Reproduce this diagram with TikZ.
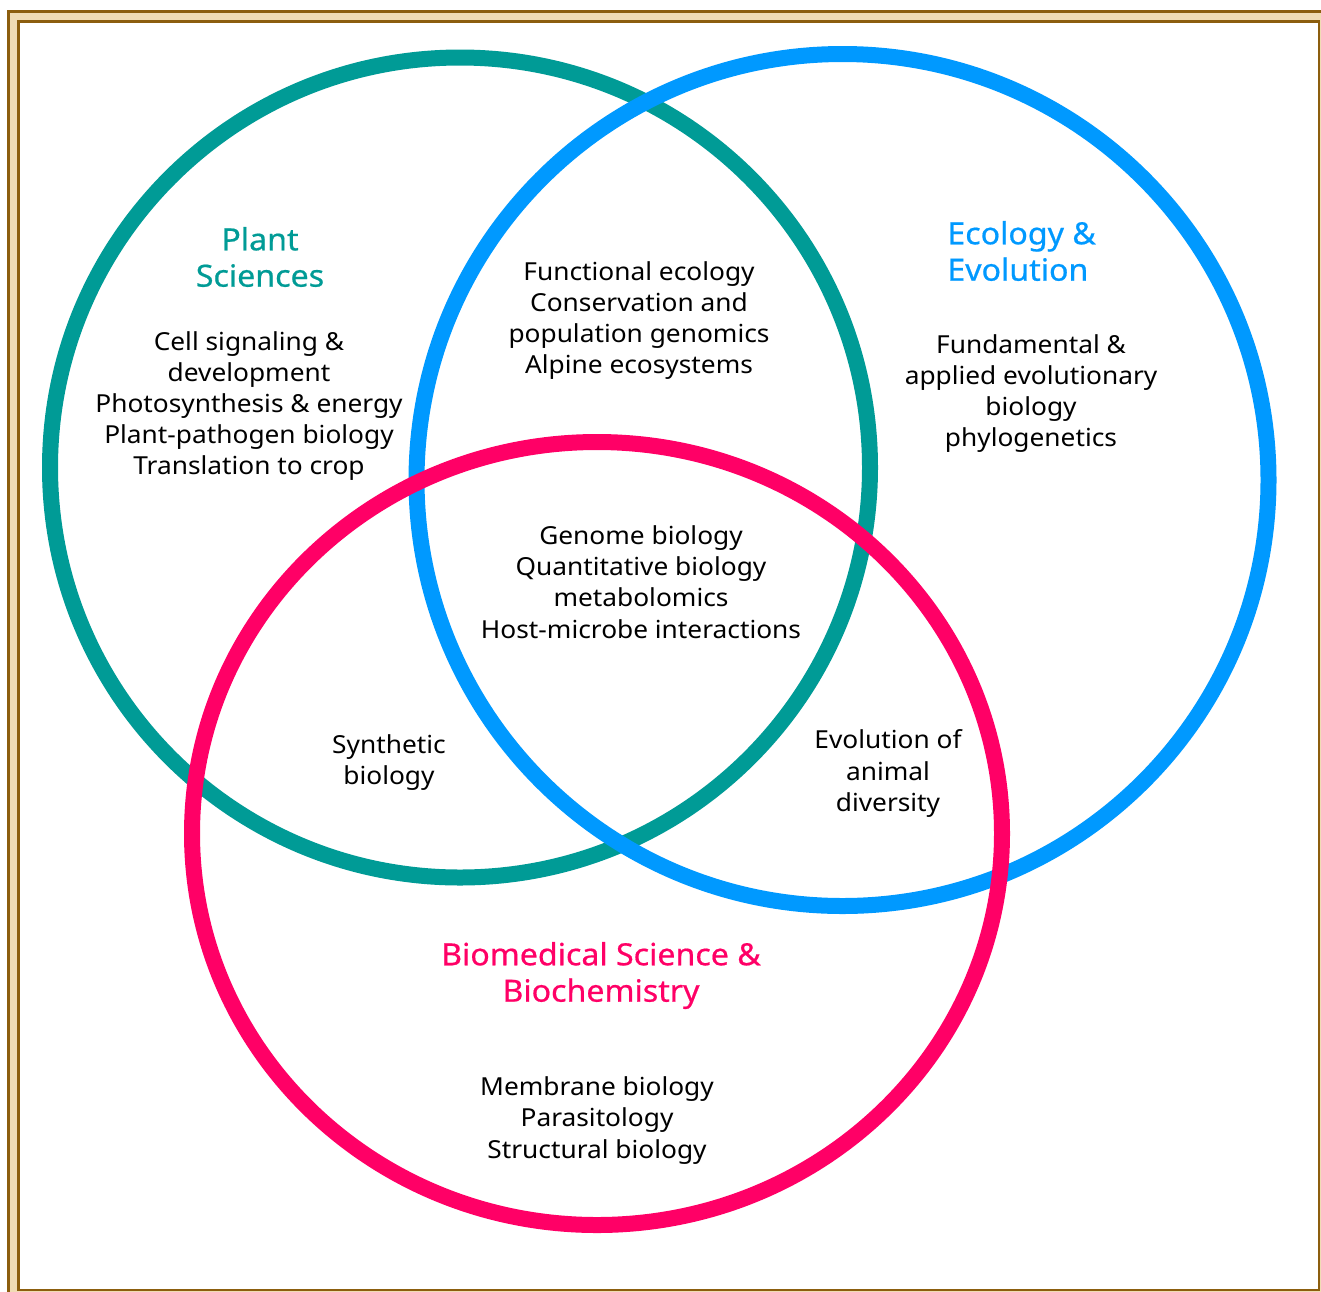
\documentclass[tikz,border=0pt]{standalone}
\usepackage{fontspec}
\setmainfont{Noto Sans}
\newfontfamily\wideff[FakeStretch=1.06]{Noto Sans}
\newfontfamily\widetf[FakeStretch=1.05,FakeBold=0.6]{Noto Sans}
\definecolor{teal1}{HTML}{009B96}
\definecolor{blue1}{HTML}{0099FF}
\definecolor{pink1}{HTML}{FF0066}
\definecolor{frameD}{HTML}{8C5E0E}
\definecolor{frameL}{HTML}{F0DCB4}
\begin{document}
\begin{tikzpicture}[x=0.5pt,y=-0.5pt,
  ring/.style={line width=8pt},
  body/.style={align=center,font=\wideff\fontsize{12.4}{15.6}\selectfont,text=black,inner sep=0pt},
  ttl/.style={font=\widetf\fontsize{15.3}{18.2}\selectfont,inner sep=0pt}]
\useasboundingbox (0,0) rectangle (1321,1291);
\clip (0,0) rectangle (1321,1291);
\fill[white] (0,0) rectangle (1321,1291);
% frame
\draw[frameD,line width=1.2pt,fill=frameL] (8.5,11.5) rectangle (1335,1310);
\draw[frameD,line width=1.2pt,fill=white] (18.5,21.5) rectangle (1319,1290);
% circles
\draw[ring,teal1] (460,467.5) circle[radius=410];
\draw[ring,blue1] (842.5,480) circle[radius=426];
\draw[ring,pink1] (597,833.5) ellipse[x radius=405,y radius=391.5];
% titles
\node[ttl,text=teal1,align=center] (pt) at (260,257) {Plant\\Sciences};
\node[ttl,text=blue1,align=left,anchor=west] (et) at (947,251) {Ecology \&\\Evolution};
\node[ttl,text=pink1,align=center] (bt) at (601,975.5) {Biomedical Science \&\\Biochemistry};
% bodies
\node[body] (pb) at (249,406) {Cell signaling \&\\development\\Photosynthesis \& energy\\Plant-pathogen biology\\Translation to crop};
\node[body] (eb) at (1031,393.5) {Fundamental \&\\applied evolutionary\\biology\\phylogenetics};
\node[body] (tb) at (639,320.5) {Functional ecology\\Conservation and\\population genomics\\Alpine ecosystems};
\node[body] (cb) at (641,582) {Genome biology\\Quantitative biology\\metabolomics\\Host-microbe interactions};
\node[body] (sb) at (389,762.5) {Synthetic\\biology};
\node[body] (ab) at (888,773.5) {Evolution of\\animal\\diversity};
\node[body] (bb) at (597,1120.5) {Membrane biology\\Parasitology\\Structural biology};
\end{tikzpicture}
\end{document}
